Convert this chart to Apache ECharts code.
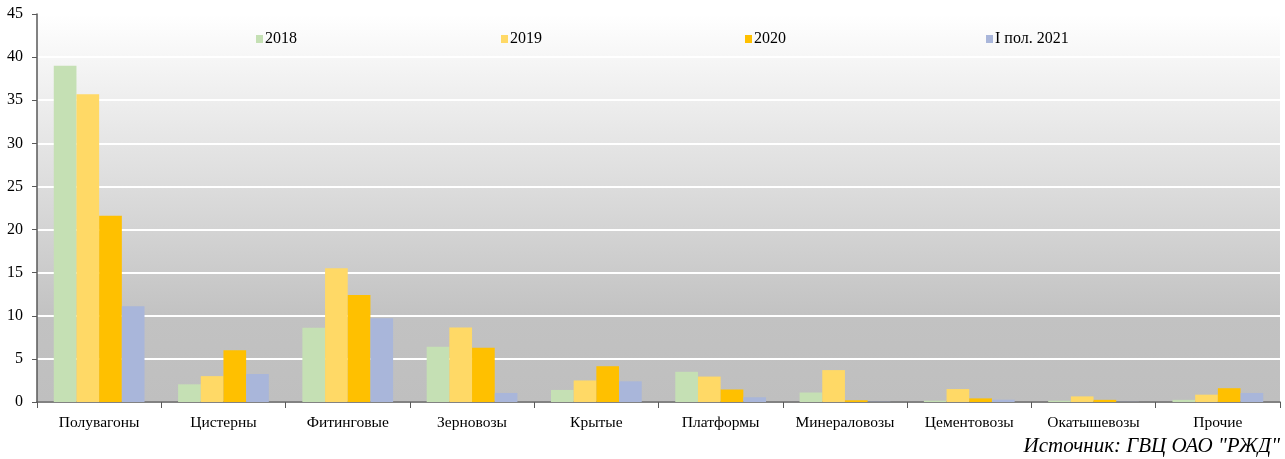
<!DOCTYPE html>
<html>
<head>
<meta charset="utf-8">
<script src="https://cdn.jsdelivr.net/npm/echarts@6/dist/echarts.min.js"></script>
<style>html,body{margin:0;padding:0;background:#fff;}#c{width:1285px;height:459px;}</style>
</head>
<body>
<div id="c"></div>
<script>
const categories = ['Полувагоны','Цистерны','Фитинговые','Зерновозы','Крытые','Платформы','Минераловозы','Цементовозы','Окатышевозы','Прочие'];
const seriesNames = ['2018','2019','2020','I пол. 2021'];
const v2018 = [39.0, 2.05, 8.6, 6.4, 1.4, 3.5, 1.1, 0.15, 0.15, 0.25];
const v2019 = [35.7, 3.0, 15.5, 8.65, 2.5, 2.95, 3.7, 1.5, 0.65, 0.85];
const v2020 = [21.6, 6.0, 12.4, 6.3, 4.15, 1.45, 0.2, 0.42, 0.25, 1.6];
const v2021 = [11.1, 3.25, 9.7, 1.05, 2.4, 0.55, 0.03, 0.27, 0.02, 1.05];
const yTicks = [0,5,10,15,20,25,30,35,40,45];
const colors = ['#C5E0B4','#FFD966','#FFC000','#A9B6DA'];
const sourceText = 'Источник: ГВЦ ОАО "РЖД"';

const font = '"Liberation Serif","Times New Roman",serif';
const values = [v2018, v2019, v2020, v2021];
const legendLeft = [251, 496, 740, 981];

const chart = echarts.init(document.getElementById('c'), null, {renderer:'canvas'});
chart.setOption({
  animation: false,
  grid: {
    left: 37, right: 5, top: 14, bottom: 57,
    show: true, borderWidth: 0,
    backgroundColor: new echarts.graphic.LinearGradient(0,0,0,1,[
      {offset:0, color:'#ffffff'},
      {offset:0.78, color:'#c2c2c2'},
      {offset:1, color:'#bfbfbf'}
    ])
  },
  legend: seriesNames.map((n,i)=>({
    data:[n], left: legendLeft[i], top: 26, icon:'rect', itemWidth:7, itemHeight:8, itemGap:0,
    textStyle:{fontFamily:font, fontSize:16, color:'#000', padding:[0,0,0,-3]}
  })),
  xAxis: {
    type:'category', data: categories,
    axisLine:{show:true, lineStyle:{color:'#595959', width:1.5}},
    axisTick:{show:true, interval:0, alignWithLabel:false, length:6, lineStyle:{color:'#595959'}},
    axisLabel:{interval:0, hideOverlap:false, fontFamily:font, fontSize:15.5, color:'#000', margin:13}
  },
  yAxis: {
    type:'value', min: yTicks[0], max: yTicks[yTicks.length-1], interval:5,
    axisLine:{show:true, lineStyle:{color:'#595959', width:1.5}},
    axisTick:{show:true, length:5, lineStyle:{color:'#595959'}},
    axisLabel:{fontFamily:font, fontSize:16, color:'#000', margin:14},
    splitLine:{show:true, lineStyle:{color:'#ffffff', width:2}}
  },
  series: seriesNames.map((n,i)=>({
    name:n, type:'bar', data: values[i], barGap:'0%', barCategoryGap:'27%',
    itemStyle:{color:colors[i]}
  })),
  graphic: [{
    type:'text', right: 5, top: 436,
    style:{text: sourceText, font: 'italic 21px ' + font, fill:'#000'}
  }]
});
</script>
</body>
</html>
